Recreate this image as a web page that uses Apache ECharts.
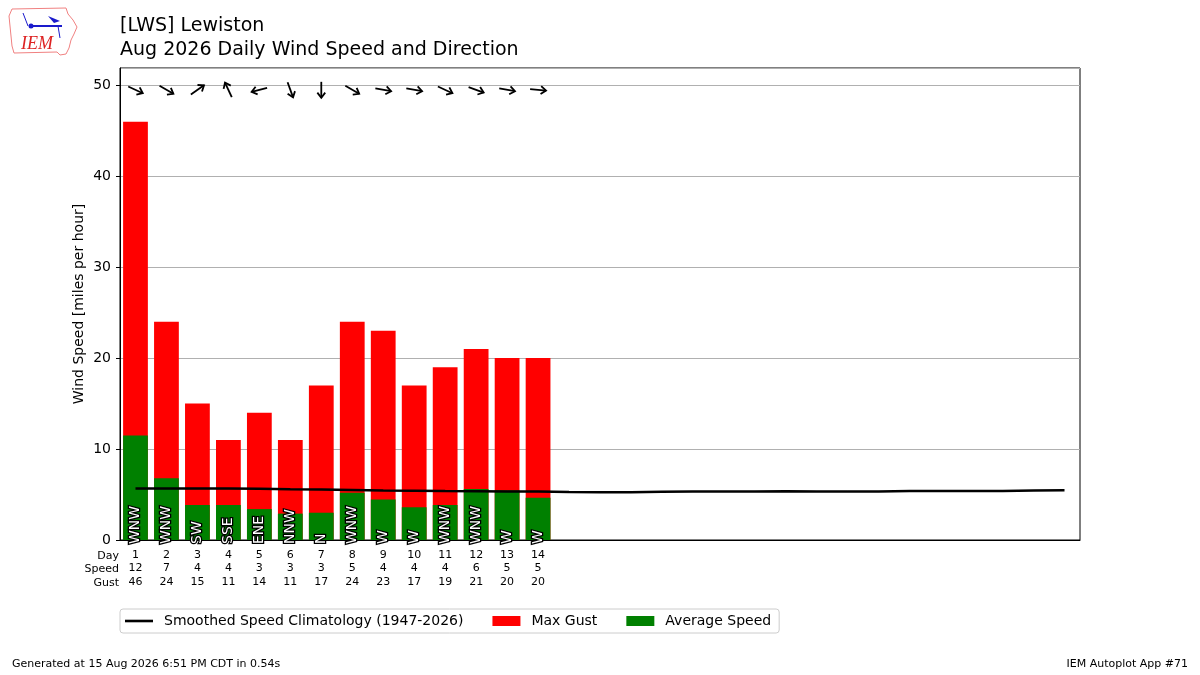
<!DOCTYPE html>
<html>
<head>
<meta charset="utf-8">
<title>LWS Daily Wind</title>
<script src="https://cdn.jsdelivr.net/npm/echarts@6/dist/echarts.min.js"></script>
<style>
  html, body { margin: 0; padding: 0; background: #fff; }
  #main { width: 1200px; height: 675px; }
</style>
</head>
<body>
<div id="main"></div>
<script type="text/javascript">
// days of August (x axis categories)
var days = [1, 2, 3, 4, 5, 6, 7, 8, 9, 10, 11, 12, 13, 14, 15, 16,
            17, 18, 19, 20, 21, 22, 23, 24, 25, 26, 27, 28, 29, 30, 31];
// observed so far (days 1-14)
var avgSpeed = [11.5, 6.8, 3.85, 3.85, 3.4, 2.9, 3.0, 5.2, 4.45, 3.6, 3.85, 5.6, 5.45, 4.65];
var maxGust = [46, 24, 15, 11, 14, 11, 17, 24, 23, 17, 19, 21, 20, 20];
var speedRow = [12, 7, 4, 4, 3, 3, 3, 5, 4, 4, 4, 6, 5, 5];
var dirText = ['WNW', 'WNW', 'SW', 'SSE', 'ENE', 'NNW', 'N', 'WNW', 'W', 'W', 'WNW', 'WNW', 'W', 'W'];
// direction wind blows from, degrees
var dirDeg = [295, 300, 235, 155, 75, 340, 0, 300, 280, 280, 295, 290, 280, 275];
// smoothed climatology for every day of the month
var climo = [5.65, 5.65, 5.65, 5.65, 5.63, 5.58, 5.55, 5.5, 5.45, 5.42, 5.38, 5.36, 5.34, 5.32, 5.28, 5.26,
             5.26, 5.3, 5.32, 5.32, 5.33, 5.35, 5.33, 5.32, 5.33, 5.38, 5.4, 5.4, 5.4, 5.43, 5.46];
var arrowLevel = 49.5;

var FONT = 'DejaVu Sans';
var myChart = echarts.init(document.getElementById('main'));

var arrowData = dirDeg.map(function (d, i) { return [i, arrowLevel, d]; });

myChart.setOption({
  animation: false,
  textStyle: { fontFamily: FONT, color: '#000' },
  title: {
    text: '[LWS] Lewiston\nAug 2026 Daily Wind Speed and Direction',
    left: 120, top: 14, padding: 0,
    textStyle: { fontFamily: FONT, fontSize: 19, fontWeight: 'normal', lineHeight: 24, color: '#000' }
  },
  legend: {
    left: 120, top: 609,
    padding: [5, 8, 5, 5],
    borderColor: '#cccccc', borderWidth: 1, borderRadius: 3,
    itemWidth: 28, itemHeight: 10, itemGap: 29,
    textStyle: { fontFamily: FONT, fontSize: 14, color: '#000', padding: [0, 0, 0, 6] },
    data: [
      { name: 'Smoothed Speed Climatology (1947-2026)', icon: 'path://M0,0 L28,0 L28,2.6 L0,2.6 Z' },
      { name: 'Max Gust', icon: 'rect' },
      { name: 'Average Speed', icon: 'rect' }
    ]
  },
  grid: {
    left: 120, right: 120, top: 68, bottom: 135,
    show: true, borderColor: '#000', borderWidth: 1, backgroundColor: 'transparent'
  },
  xAxis: {
    type: 'category',
    data: days,
    axisLine: { lineStyle: { color: '#000', width: 1 } },
    axisTick: {
      alignWithLabel: true, length: 4, lineStyle: { color: '#000' },
      interval: function (idx) { return idx < maxGust.length; }
    },
    axisLabel: {
      interval: 0, fontSize: 11, lineHeight: 13.5, margin: 8, color: '#000',
      formatter: function (v, idx) {
        if (idx >= maxGust.length) return '';
        return v + '\n' + speedRow[idx] + '\n' + maxGust[idx];
      }
    }
  },
  yAxis: {
    type: 'value',
    min: 0, max: 51.9, interval: 10,
    name: 'Wind Speed [miles per hour]',
    nameLocation: 'middle', nameGap: 34, nameMoveOverlap: false,
    nameTextStyle: { fontSize: 14, color: '#000' },
    axisLine: { show: true, lineStyle: { color: '#000' } },
    axisTick: { show: true, length: 4, lineStyle: { color: '#000' } },
    axisLabel: { fontSize: 14, color: '#000', margin: 9, showMaxLabel: false },
    splitLine: { show: true, lineStyle: { color: '#b0b0b0', width: 1 } }
  },
  series: [
    {
      name: 'Max Gust', type: 'bar', data: maxGust,
      barWidth: '80%', barGap: '-100%',
      itemStyle: { color: '#ff0000' }
    },
    {
      name: 'Average Speed', type: 'bar', data: avgSpeed,
      barWidth: '80%', barGap: '-100%',
      itemStyle: { color: '#008000' },
      label: {
        show: true, position: 'insideBottom', distance: -4, rotate: 90,
        align: 'left', verticalAlign: 'middle',
        fontFamily: FONT, fontSize: 14, color: '#fff',
        textBorderColor: '#000', textBorderWidth: 2.5,
        formatter: function (p) { return dirText[p.dataIndex]; }
      },
      z: 3
    },
    {
      name: 'Smoothed Speed Climatology (1947-2026)', type: 'line', data: climo,
      symbol: 'none', smooth: false,
      lineStyle: { color: '#000', width: 2.5 },
      itemStyle: { color: '#000' },
      z: 4
    },
    {
      type: 'custom', name: 'arrows', data: arrowData,
      renderItem: function (params, api) {
        var c = api.coord([api.value(0), api.value(1)]);
        var to = (api.value(2) + 180) * Math.PI / 180;
        var ux = Math.sin(to), uy = -Math.cos(to);
        var half = 8;
        var tip = [c[0] + ux * half, c[1] + uy * half];
        var tail = [c[0] - ux * half, c[1] - uy * half];
        var hl = 6.5, ha = 0.65;
        var back = Math.atan2(-uy, -ux);
        var h1 = [tip[0] + hl * Math.cos(back + ha), tip[1] + hl * Math.sin(back + ha)];
        var h2 = [tip[0] + hl * Math.cos(back - ha), tip[1] + hl * Math.sin(back - ha)];
        var st = { stroke: '#000', lineWidth: 1.8, fill: null };
        return {
          type: 'group',
          children: [
            { type: 'line', shape: { x1: tail[0], y1: tail[1], x2: tip[0], y2: tip[1] }, style: st },
            { type: 'polyline', shape: { points: [h1, tip, h2] }, style: st }
          ]
        };
      },
      z: 5
    }
  ],
  graphic: [
    // table row headers
    { type: 'text', right: 1200 - 119, top: 549,
      style: { text: 'Day\nSpeed\nGust', font: '11px DejaVu Sans', lineHeight: 13.5, textAlign: 'right', fill: '#000' } },
    // footer
    { type: 'text', left: 12, top: 659,
      style: { text: 'Generated at 15 Aug 2026 6:51 PM CDT in 0.54s', font: '11px DejaVu Sans', fill: '#000' } },
    { type: 'text', right: 12, top: 659,
      style: { text: 'IEM Autoplot App #71', font: '11px DejaVu Sans', fill: '#000', textAlign: 'right' } },
    // rough IEM logo
    { type: 'polyline', shape: { points: [[12, 9], [66, 8], [68, 14], [73, 20], [77, 27], [74, 34], [71, 40], [69, 48], [66, 54], [60, 55], [57, 52], [14, 53], [12, 46], [11, 36], [10, 26], [9, 16], [12, 9]] },
      style: { stroke: '#f08080', lineWidth: 1, fill: null } },
    { type: 'line', shape: { x1: 30, y1: 26, x2: 62, y2: 26 }, style: { stroke: '#1a1acc', lineWidth: 2 } },
    { type: 'circle', shape: { cx: 31, cy: 26, r: 2.5 }, style: { fill: '#1a1acc' } },
    { type: 'line', shape: { x1: 28, y1: 26, x2: 23, y2: 13 }, style: { stroke: '#1a1acc', lineWidth: 1 } },
    { type: 'polygon', shape: { points: [[48, 16], [60, 21], [54, 23]] }, style: { fill: '#1a1acc' } },
    { type: 'line', shape: { x1: 58, y1: 26, x2: 60, y2: 38 }, style: { stroke: '#1a1acc', lineWidth: 1 } },
    { type: 'text', left: 21, top: 35,
      style: { text: 'IEM', font: 'italic 18px Liberation Serif', fill: '#dd2222' } }
  ]
});
</script>
</body>
</html>
